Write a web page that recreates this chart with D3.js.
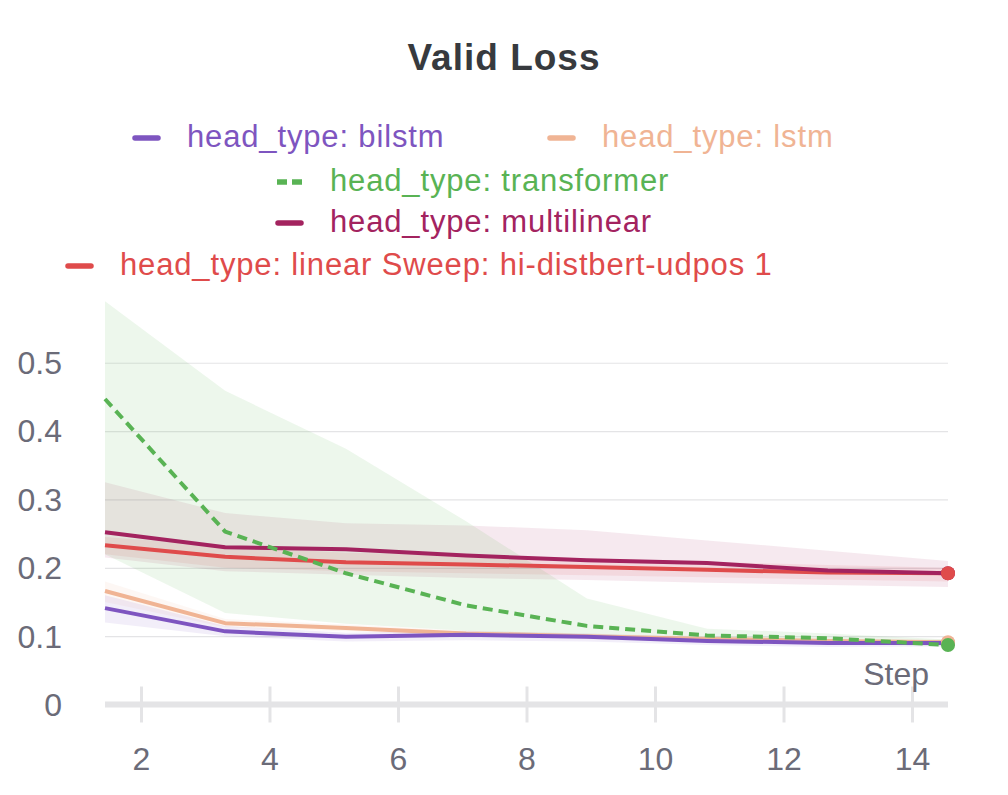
<!DOCTYPE html>
<html>
<head>
<meta charset="utf-8">
<script src="https://cdn.jsdelivr.net/npm/d3@7"></script>
<style>
  html, body { margin: 0; padding: 0; background: #fff; }
  text { font-family: "Liberation Sans", Arial, sans-serif; }
</style>
</head>
<body>
<div id="chart"></div>
<script>
// Step values (bucketed x positions)
const steps = [1.44, 3.31, 5.19, 7.06, 8.94, 10.81, 12.69, 14.56];

// Series values (mean) with min / max band
const bilstm = [0.141, 0.107, 0.099, 0.102, 0.099, 0.093, 0.090, 0.090];
const bilstmMin = [0.120, 0.100, 0.092, 0.094, 0.092, 0.087, 0.084, 0.085];
const bilstmMax = [0.160, 0.115, 0.105, 0.108, 0.104, 0.098, 0.095, 0.094];

const lstm = [0.166, 0.119, 0.112, 0.104, 0.100, 0.096, 0.093, 0.091];
const lstmMin = [0.150, 0.113, 0.107, 0.100, 0.096, 0.092, 0.089, 0.087];
const lstmMax = [0.180, 0.125, 0.117, 0.108, 0.104, 0.100, 0.097, 0.095];

const transformer = [0.447, 0.253, 0.192, 0.145, 0.115, 0.101, 0.097, 0.087];
const transformerMin = [0.220, 0.134, 0.118, 0.108, 0.100, 0.095, 0.090, 0.085];
const transformerMax = [0.590, 0.459, 0.374, 0.268, 0.155, 0.111, 0.104, 0.095];

const multilinear = [0.252, 0.230, 0.227, 0.218, 0.211, 0.207, 0.196, 0.192];
const multilinearMin = [0.215, 0.195, 0.190, 0.185, 0.182, 0.178, 0.175, 0.172];
const multilinearMax = [0.325, 0.280, 0.265, 0.262, 0.255, 0.240, 0.225, 0.210];

const linear = [0.233, 0.216, 0.208, 0.205, 0.201, 0.197, 0.193, 0.192];
const linearMin = [0.220, 0.200, 0.195, 0.192, 0.189, 0.186, 0.183, 0.180];
const linearMax = [0.245, 0.232, 0.222, 0.219, 0.214, 0.209, 0.204, 0.200];

const xTicks = [2, 4, 6, 8, 10, 12, 14];
const yTicks = [0, 0.1, 0.2, 0.3, 0.4, 0.5];

const series = [
    { name: 'head_type: lstm', mean: lstm, lo: lstmMin, hi: lstmMax, color: '#f0b494', dash: null },
    { name: 'head_type: bilstm', mean: bilstm, lo: bilstmMin, hi: bilstmMax, color: '#7e55c0', dash: null },
    { name: 'head_type: linear Sweep: hi-distbert-udpos 1', mean: linear, lo: linearMin, hi: linearMax, color: '#df4b4b', dash: null },
    { name: 'head_type: multilinear', mean: multilinear, lo: multilinearMin, hi: multilinearMax, color: '#a3235f', dash: null },
    { name: 'head_type: transformer', mean: transformer, lo: transformerMin, hi: transformerMax, color: '#59b354', dash: '10,6' }
];

// Legend placement
const legendItems = [
    { key: 'head_type: bilstm', x: 133, y: 138 },
    { key: 'head_type: lstm', x: 548, y: 138 },
    { key: 'head_type: transformer', x: 276, y: 182 },
    { key: 'head_type: multilinear', x: 276, y: 223 },
    { key: 'head_type: linear Sweep: hi-distbert-udpos 1', x: 66, y: 266 }
];

const width = 1008, height = 795;
const svg = d3.select('#chart').append('svg')
    .attr('width', width)
    .attr('height', height);

const x = d3.scaleLinear().domain([1.44, 14.56]).range([105, 948]);
const y = d3.scaleLinear().domain([0, 0.5]).range([704.5, 362.75]);

const axisColor = '#6b6b78';

// Title
svg.append('text')
    .attr('x', 504)
    .attr('y', 70)
    .attr('text-anchor', 'middle')
    .style('font-size', '37px')
    .style('font-weight', 'bold')
    .style('letter-spacing', '1px')
    .style('fill', '#373a3e')
    .text('Valid Loss');

// Y gridlines + labels
const yAxis = svg.append('g')
    .attr('transform', 'translate(105,0)')
    .call(d3.axisLeft(y).tickValues(yTicks).tickSize(-(948 - 105)).tickPadding(43)
        .tickFormat(d => d === 0 ? '0' : d3.format('.1f')(d)));
yAxis.select('.domain').remove();
yAxis.selectAll('line').attr('stroke', '#e4e4e6').attr('stroke-width', 1.2);
yAxis.selectAll('text')
    .style('font-size', '32px')
    .style('fill', axisColor)
    .attr('dy', '0.34em');

// Bands
const area = d3.area()
    .x((d, i) => x(steps[i]))
    .y0(d => y(d[0]))
    .y1(d => y(d[1]));

series.forEach(s => {
    svg.append('path')
        .datum(s.lo.map((v, i) => [v, s.hi[i]]))
        .attr('d', area)
        .attr('fill', s.color)
        .attr('fill-opacity', s.name.includes('transformer') ? 0.11 : 0.1);
});

// X axis
const xAxis = svg.append('g')
    .attr('transform', 'translate(0,704.5)')
    .call(d3.axisBottom(x).tickValues(xTicks).tickFormat(d3.format('d')));
xAxis.select('.domain')
    .attr('d', `M105,0H948`)
    .attr('stroke', '#e4e4e6')
    .attr('stroke-width', 6);
xAxis.selectAll('.tick line')
    .attr('y1', -18)
    .attr('y2', 18)
    .attr('stroke', '#e4e4e6')
    .attr('stroke-width', 3);
xAxis.selectAll('.tick text')
    .attr('y', 65)
    .attr('dy', 0)
    .style('font-size', '32px')
    .style('fill', axisColor);

svg.append('text')
    .attr('x', 929)
    .attr('y', 685)
    .attr('text-anchor', 'end')
    .style('font-size', '32px')
    .style('fill', axisColor)
    .text('Step');

// Lines
const line = d3.line()
    .x((d, i) => x(steps[i]))
    .y(d => y(d));

series.forEach(s => {
    svg.append('path')
        .datum(s.mean)
        .attr('d', line)
        .attr('fill', 'none')
        .attr('stroke', s.color)
        .attr('stroke-width', 4)
        .attr('stroke-dasharray', s.dash)
        .attr('stroke-linejoin', 'round');
});

// End dots
const dotOrder = ['head_type: bilstm', 'head_type: lstm', 'head_type: transformer', 'head_type: multilinear', 'head_type: linear Sweep: hi-distbert-udpos 1'];
dotOrder.forEach(k => {
    const s = series.find(d => d.name === k);
    const last = s.mean.length - 1;
    svg.append('circle')
        .attr('cx', x(steps[last]))
        .attr('cy', y(s.mean[last]))
        .attr('r', 7)
        .attr('fill', s.color);
});

// Legend
const legend = svg.append('g');
legendItems.forEach(item => {
    const s = series.find(d => d.name === item.key);
    const g = legend.append('g').attr('transform', `translate(${item.x},${item.y})`);
    if (s.dash) {
        g.append('line').attr('x1', 1).attr('x2', 11).attr('y1', 0).attr('y2', 0);
        g.append('line').attr('x1', 16).attr('x2', 26).attr('y1', 0).attr('y2', 0);
    } else {
        g.append('line').attr('x1', 2).attr('x2', 25).attr('y1', 0).attr('y2', 0);
    }
    g.selectAll('line')
        .attr('stroke', s.color)
        .attr('stroke-width', 5.5)
        .attr('stroke-linecap', s.dash ? 'butt' : 'round');
    g.append('text')
        .attr('x', 54)
        .attr('y', 9)
        .style('font-size', '31px')
        .style('letter-spacing', '0.85px')
        .style('fill', s.color)
        .text(s.name);
});
</script>
</body>
</html>
